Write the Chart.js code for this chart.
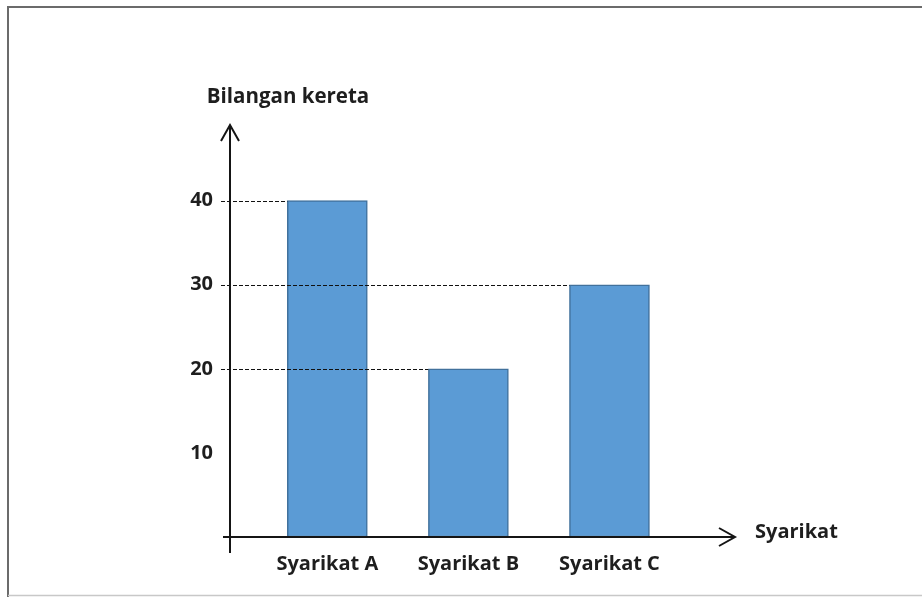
<!DOCTYPE html>
<html><head><meta charset="utf-8">
<script src="https://cdn.jsdelivr.net/npm/chart.js@4"></script>
<style>html,body{margin:0;padding:0;background:#fff;overflow:hidden}#wrap{width:922px;height:597px;position:relative}</style>
</head><body><div id="wrap"><canvas id="c"></canvas></div>
<script>
const categories = ['Syarikat A', 'Syarikat B', 'Syarikat C'];
const carCounts = [40, 20, 30];
const yTickValues = [10, 20, 30, 40];
const yAxisTitle = 'Bilangan kereta';
const xAxisTitle = 'Syarikat';

const FONT = '"Open Sans", Lato, "DejaVu Sans", sans-serif';
const TEXT = '#1e1e1e';

const decorPlugin = {
  id: 'decor',
  beforeDraw(chart) {
    const ctx = chart.ctx;
    ctx.save();
    ctx.fillStyle = '#fff';
    ctx.fillRect(0, 0, chart.width, chart.height);
    ctx.strokeStyle = '#6b6b6b';
    ctx.lineWidth = 2;
    ctx.beginPath();
    ctx.moveTo(8, 597); ctx.lineTo(8, 7); ctx.lineTo(922, 7);
    ctx.stroke();
    ctx.strokeStyle = '#c8c8c8';
    ctx.lineWidth = 1.5;
    ctx.beginPath();
    ctx.moveTo(8, 595.5); ctx.lineTo(922, 595.5);
    ctx.stroke();
    ctx.restore();
  },
  afterDatasetsDraw(chart) {
    const ctx = chart.ctx;
    const ys = chart.scales.y;
    const area = chart.chartArea;
    const meta = chart.getDatasetMeta(0);
    ctx.save();
    // dashed guide lines
    ctx.strokeStyle = '#111';
    ctx.lineWidth = 1.2;
    ctx.setLineDash([4, 2]);
    carCounts.forEach((v, i) => {
      const el = meta.data[i];
      const y = Math.round(ys.getPixelForValue(v)) + 0.5;
      ctx.beginPath();
      ctx.moveTo(area.left - 9, y);
      ctx.lineTo(el.x - el.width / 2, y);
      ctx.stroke();
    });
    ctx.setLineDash([]);
    // axes
    ctx.strokeStyle = '#151515';
    ctx.lineWidth = 2;
    const ax = area.left, ay = area.bottom;
    ctx.beginPath();
    ctx.moveTo(ax, ay + 16); ctx.lineTo(ax, area.top);
    ctx.moveTo(ax - 9, area.top + 16); ctx.lineTo(ax, area.top); ctx.lineTo(ax + 9, area.top + 16);
    ctx.moveTo(ax - 7, ay); ctx.lineTo(area.right, ay);
    ctx.moveTo(area.right - 16, ay - 9); ctx.lineTo(area.right, ay); ctx.lineTo(area.right - 16, ay + 9);
    ctx.stroke();
    // titles
    ctx.fillStyle = TEXT;
    ctx.font = 'bold 20.5px ' + FONT;
    ctx.textBaseline = 'middle';
    ctx.textAlign = 'center';
    ctx.fillText(yAxisTitle, 288, 97);
    ctx.textAlign = 'left';
    ctx.font = 'bold 20px ' + FONT;
    ctx.fillText(xAxisTitle, 755, 532);
    ctx.restore();
  }
};

new Chart(document.getElementById('c'), {
  type: 'bar',
  data: {
    datasets: [{
      data: carCounts.map((v, i) => ({ x: i, y: v })),
      backgroundColor: '#5b9bd5',
      borderColor: '#41719c',
      borderWidth: 1.5,
      borderSkipped: false,
      barThickness: 80
    }]
  },
  options: {
    responsive: true,
    maintainAspectRatio: false,
    animation: false,
    devicePixelRatio: 1,
    layout: { padding: { top: 125, right: 187, left: 0, bottom: 0 } },
    plugins: { legend: { display: false }, tooltip: { enabled: false } },
    scales: {
      x: {
        type: 'linear',
        offset: false,
        min: -0.69,
        max: 2.89,
        grid: { display: false, drawTicks: false, offset: false },
        border: { display: false },
        afterBuildTicks: s => { s.ticks = categories.map((_, i) => ({ value: i })); },
        afterFit: s => { s.height = 60; },
        ticks: {
          autoSkip: false, maxRotation: 0, padding: 15,
          color: TEXT,
          font: { family: FONT, size: 20, weight: 'bold' },
          callback: v => categories[v]
        }
      },
      y: {
        min: 0,
        max: 49,
        grid: { display: false, drawTicks: false },
        border: { display: false },
        afterBuildTicks: s => { s.ticks = yTickValues.map(v => ({ value: v })); },
        afterFit: s => { s.width = 230; },
        ticks: {
          padding: 17,
          color: TEXT,
          font: { family: FONT, size: 20, weight: 'bold' }
        }
      }
    }
  },
  plugins: [decorPlugin]
});
</script>
</body></html>
